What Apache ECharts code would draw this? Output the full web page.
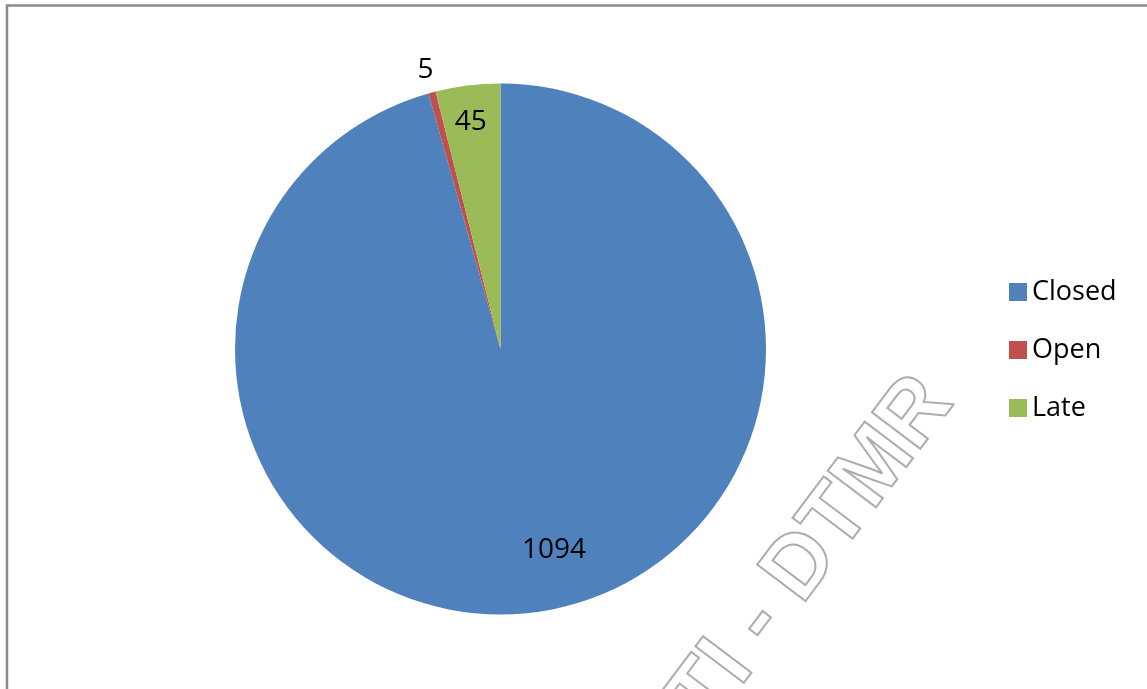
<!DOCTYPE html>
<html>
<head>
<meta charset="utf-8">
<script src="https://cdn.jsdelivr.net/npm/echarts@6/dist/echarts.min.js"></script>
<style>
html,body{margin:0;padding:0;background:#fff;}
#chart{width:1147px;height:689px;}
</style>
</head>
<body>
<div id="chart"></div>
<script>
const categories = ['Closed', 'Open', 'Late'];
const values = [1094, 5, 45];
const colors = ['#4F81BD', '#C0504D', '#9BBB59'];
const watermark = 'TI - DTMR';

const labelOffsets = [[35, 67], [-40, -148], [-13, -92]];

const chart = echarts.init(document.getElementById('chart'));
chart.setOption({
  animation: false,
  backgroundColor: '#ffffff',
  legend: {
    orient: 'vertical',
    left: 1009,
    top: 277,
    padding: 0,
    itemWidth: 18,
    itemHeight: 18,
    itemGap: 28,
    icon: 'rect',
    data: categories,
    textStyle: { fontFamily: 'Open Sans', fontSize: 27, color: '#000', lineHeight: 30 }
  },
  graphic: [
    {
      type: 'rect',
      shape: { x: 7, y: 5.5, width: 1300, height: 900 },
      style: { fill: 'none', stroke: '#8a8a8a', lineWidth: 2.5 },
      silent: true
    },
    {
      type: 'text',
      x: 812,
      y: 552,
      rotation: 53 * Math.PI / 180,
      silent: true,
      z: 100,
      style: {
        text: watermark,
        fontFamily: 'Liberation Sans',
        fontWeight: 'bold',
        fontSize: 88,
        fill: 'none',
        stroke: '#adadad',
        lineWidth: 2,
        align: 'center',
        verticalAlign: 'middle'
      }
    }
  ],
  series: [{
    type: 'pie',
    center: [500.5, 349],
    radius: 265.5,
    startAngle: 90,
    clockwise: true,
    avoidLabelOverlap: false,
    labelLine: { show: false },
    itemStyle: { borderWidth: 0 },
    label: {
      show: true,
      position: 'inside',
      formatter: '{c}',
      fontFamily: 'Open Sans',
      fontSize: 28,
      color: '#000'
    },
    data: categories.map((name, i) => ({
      name: name,
      value: values[i],
      itemStyle: { color: colors[i] },
      label: { offset: labelOffsets[i] }
    }))
  }]
});
</script>
</body>
</html>
